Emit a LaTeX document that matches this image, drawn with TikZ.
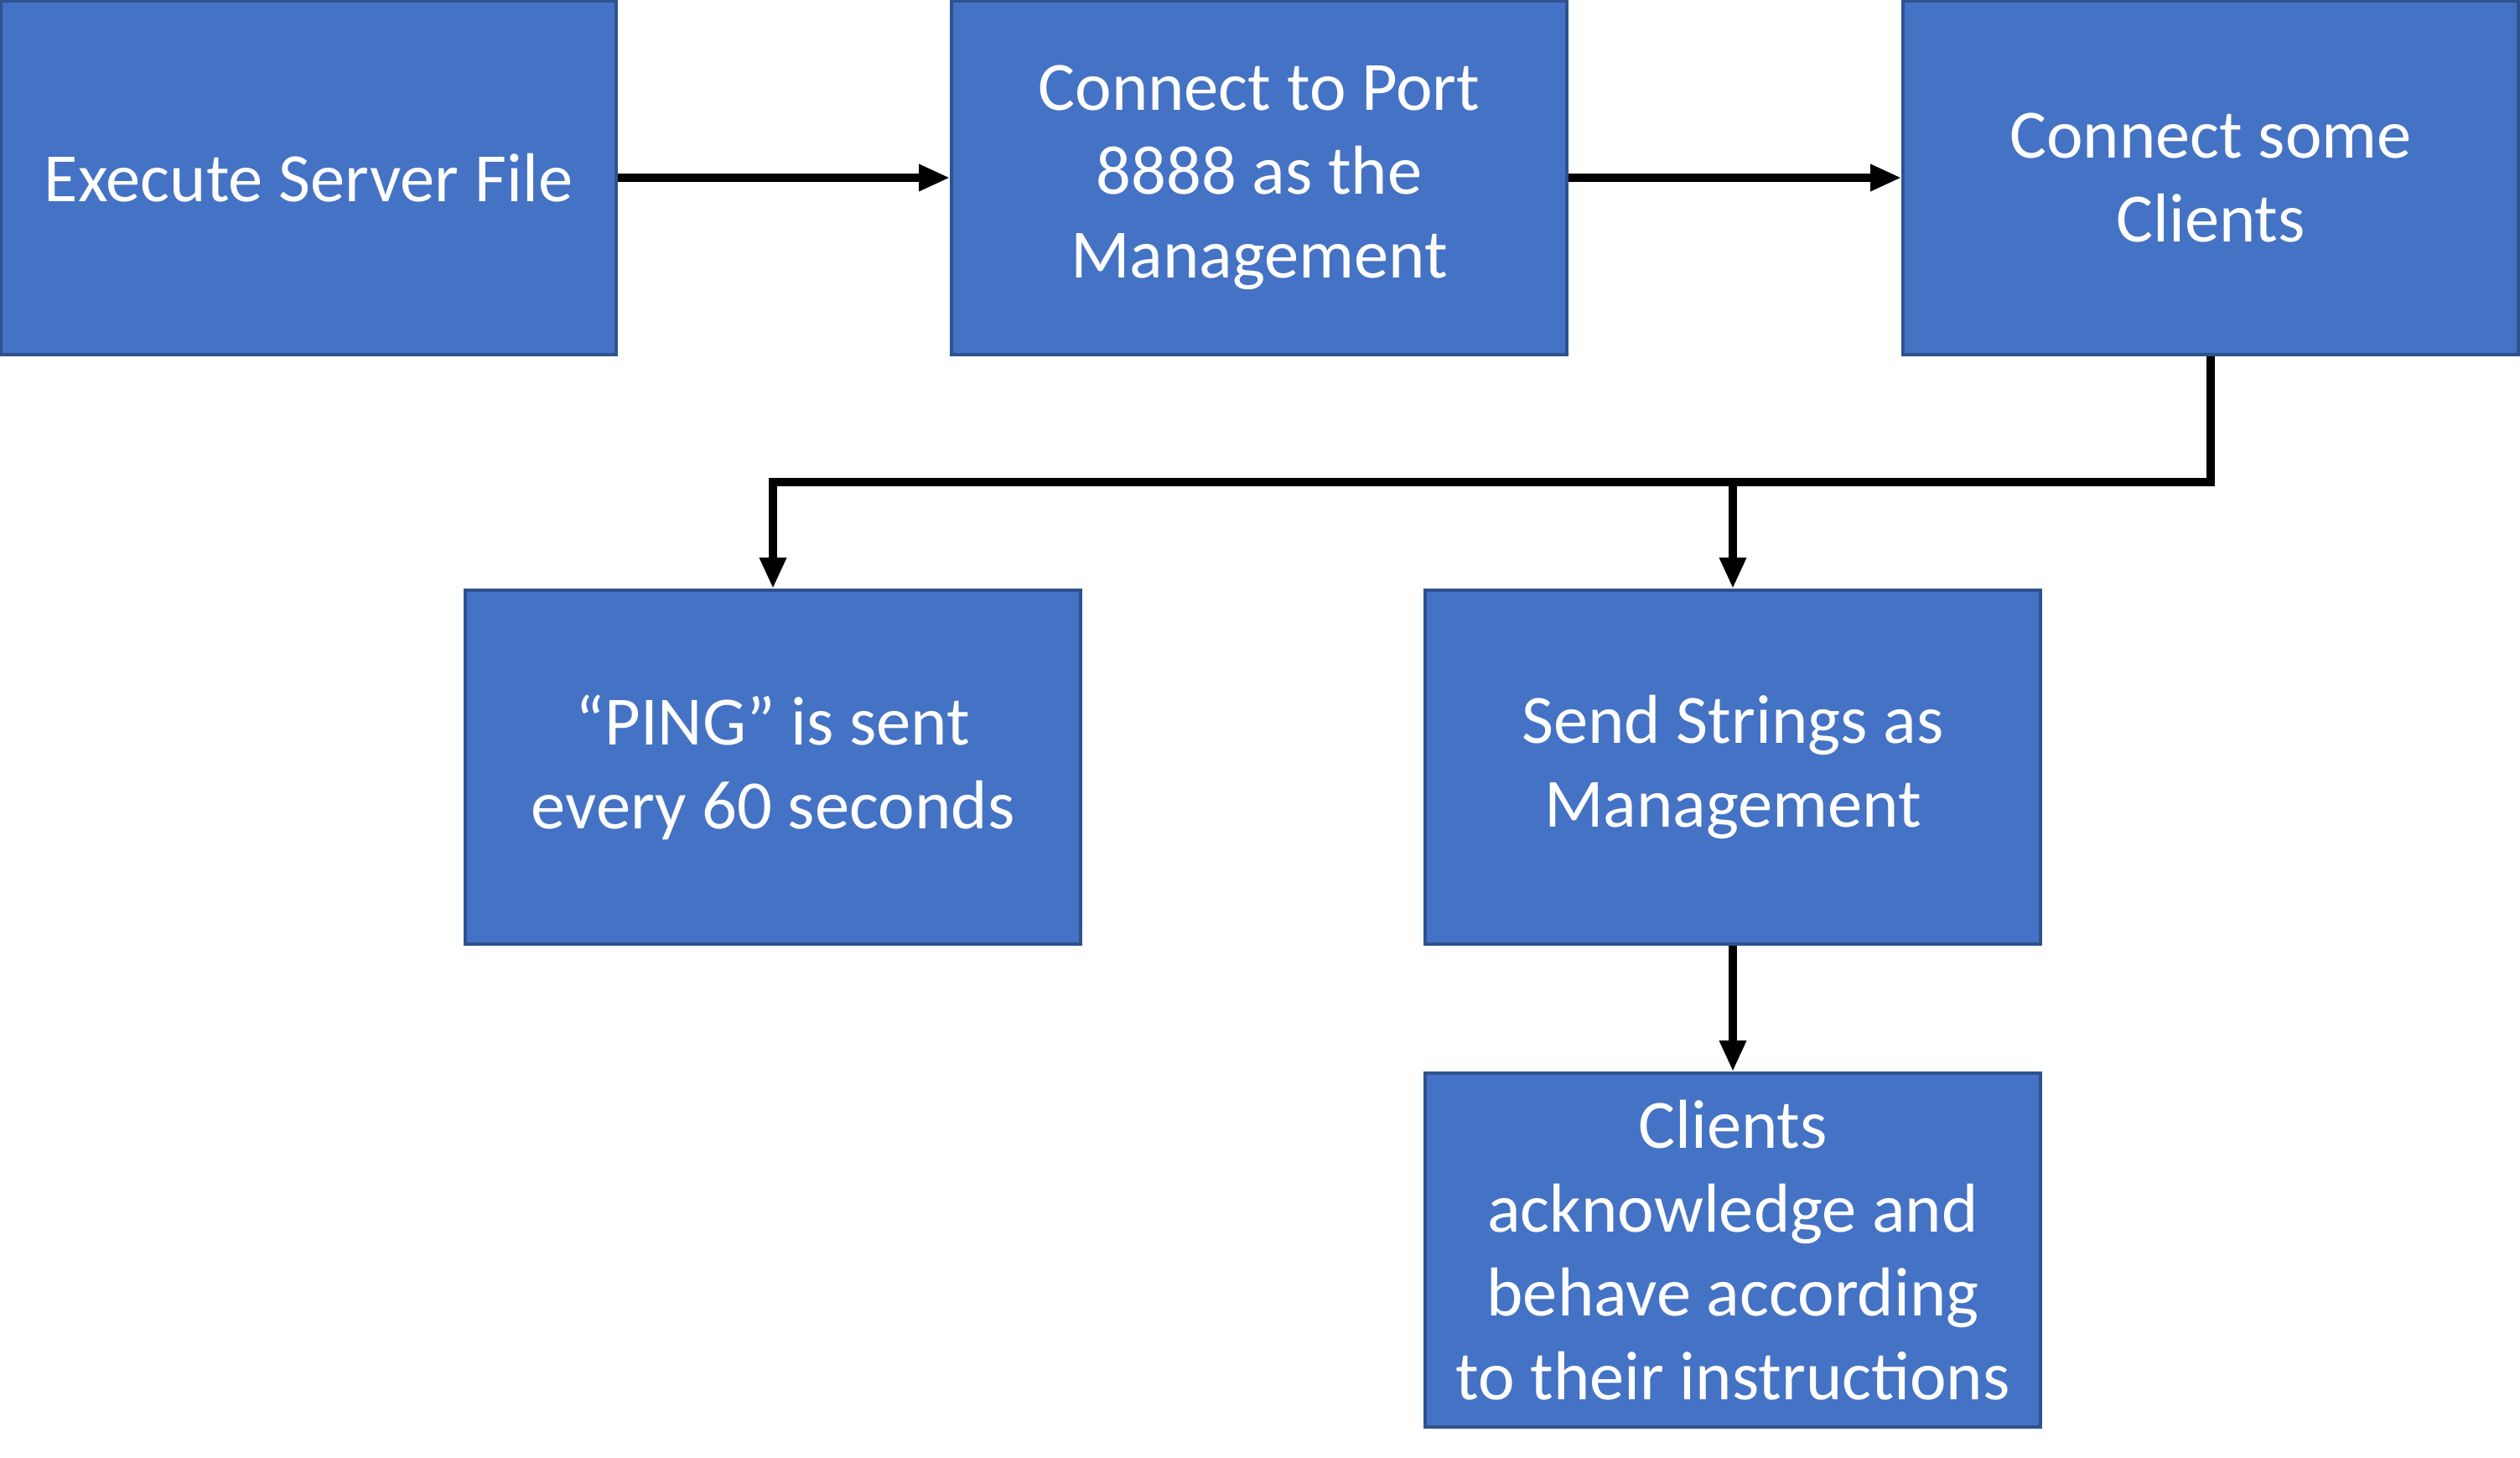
\documentclass[tikz,border=0pt]{standalone}
\usepackage{fontspec}
\setmainfont{Carlito}
\usetikzlibrary{arrows.meta}
\definecolor{azulcaja}{HTML}{4472C4}
\definecolor{bordecaja}{HTML}{2F528F}
\begin{document}
\begin{tikzpicture}[inner sep=0mm]
\tikzstyle{caja}=[rectangle,fill=azulcaja,draw=bordecaja,line width=1.1pt,minimum width=7.34cm,minimum height=4.22cm,text=white,align=center,font=\fontsize{23.5}{28.5}\selectfont]
\tikzstyle{flecha}=[line width=2.6pt,-{Triangle[length=0.37cm,width=0.3cm]}]
\useasboundingbox (0,0) rectangle (30.06,-17.39);
\node at (3.68,-2.12) (paso1)[caja] {Execute Server File};
\node at (15.02,-2.12) (paso2)[caja] {Connect to Port\\8888 as the\\Management};
\node at (26.37,-2.12) (paso3)[caja] {Connect some\\Clients};
\node at (9.22,-9.15) (paso4)[caja] {“PING” is sent\\every 60 seconds};
\node at (20.67,-9.15) (paso5)[caja] {Send Strings as\\Management};
\node at (20.67,-14.91) (paso6)[caja] {Clients\\acknowledge and\\behave according\\to their instructions};
\coordinate (codo) at (26.37,-5.75);
\coordinate (rama) at (20.67,-5.75);
\draw [flecha] (paso1) -- (paso2);
\draw [flecha] (paso2) -- (paso3);
\draw [flecha] (paso3) -- (codo) -| (paso4);
\draw [flecha] (rama) -- (paso5);
\draw [flecha] (paso5) -- (paso6);
\end{tikzpicture}
\end{document}
